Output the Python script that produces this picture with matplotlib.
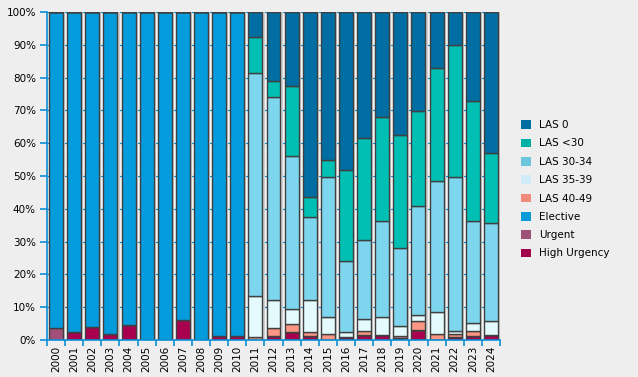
import matplotlib
matplotlib.use("Agg")
import matplotlib.pyplot as plt
import numpy as np
from matplotlib.patches import Patch

# ── Data (percent of transplants per year) ───────────────────────────────────
years = [str(y) for y in range(2000, 2025)]

high_urgency = [0, 2.3, 3.9, 1.7, 4.6, 0, 0, 6.0, 0, 1.2, 1.2,
                0, 1.2, 2.3, 1.2, 0, 0.9, 1.5, 1.5, 0.7, 3.0, 0, 1.0, 1.2, 1.5]
urgent = [3.6, 0, 0, 0, 0, 0, 0, 0, 0, 0, 0,
          0, 0, 0, 0, 0, 0, 0, 0, 0, 0, 0, 0, 0, 0]
elective = [96.4, 97.7, 96.1, 98.3, 95.4, 100, 100, 94.0, 100, 98.8, 98.8,
            0, 0, 0, 0, 0, 0, 0, 0, 0, 0, 0, 0, 0, 0]
las_40_49 = [0] * 11 + [0.8, 2.4, 2.6, 1.1, 1.7, 0, 1.2, 0, 0.5, 2.7, 1.8, 0.8, 1.5, 0]
las_35_39 = [0] * 11 + [12.6, 8.6, 4.5, 9.9, 5.2, 1.4, 3.6, 5.4, 3.1, 1.9, 6.6, 0.9, 2.5, 4.3]
las_30_34 = [0] * 11 + [67.9, 61.8, 46.7, 25.4, 42.9, 21.7, 24.2, 29.4, 23.7, 33.2, 40.0, 46.9, 31.1, 29.8]
las_lt30 = [0] * 11 + [11.0, 4.9, 21.2, 6.1, 5.0, 27.9, 31.0, 31.6, 34.4, 28.9, 34.4, 40.2, 36.5, 21.3]
las_0 = [0] * 11 + [7.7, 21.1, 22.7, 56.3, 45.2, 48.1, 38.5, 32.1, 37.6, 30.3, 17.2, 10.2, 27.2, 43.1]

# bottom to top stacking order
series = [
    ("High Urgency", high_urgency, "#a8004e"),
    ("Urgent", urgent, "#a24f7a"),
    ("Elective", elective, "#049cdc"),
    ("LAS 40-49", las_40_49, "#fb9684"),
    ("LAS 35-39", las_35_39, "#e4fbfd"),
    ("LAS 30-34", las_30_34, "#7dd6ee"),
    ("LAS <30", las_lt30, "#00c0b4"),
    ("LAS 0", las_0, "#006ea2"),
]
legend_colors = {
    "LAS 0": "#006ea0", "LAS <30": "#00b0a4", "LAS 30-34": "#6cc6dc",
    "LAS 35-39": "#d0ecf8", "LAS 40-49": "#f08a7a", "Elective": "#0a9ad8",
    "Urgent": "#a05078", "High Urgency": "#a0004c",
}

BG = "#eeeeee"
BLUE = "#0a8fd6"

fig = plt.figure(figsize=(6.38, 3.77), dpi=100, facecolor=BG)
ax = fig.add_axes([47 / 638, 37 / 377, 453 / 638, 328 / 377])
ax.set_facecolor("#f4f4f4")

x = np.arange(len(years))
width = 0.77

# grid lines behind bars
for v in range(10, 101, 10):
    ax.axhline(v, color=BLUE, linewidth=0.9, zorder=0)

# soft shadow to the right of each bar
totals = np.sum([s[1] for s in series], axis=0)
ax.bar(x + 0.12, totals, width, color="#cfcfcf", edgecolor="none", zorder=1)

bottom = np.zeros(len(years))
for name, vals, color in series:
    vals = np.array(vals, dtype=float)
    ax.bar(x, vals, width, bottom=bottom, color=color,
           edgecolor="#404040", linewidth=1.0, zorder=2)
    bottom += vals

ax.set_xlim(-0.5, len(years) - 0.5)
ax.set_ylim(0, 100)

ax.set_yticks(range(0, 101, 10))
ax.set_yticklabels([f"{v}%" for v in range(0, 101, 10)], fontsize=7.5)
ax.set_xticks(x)
ax.set_xticklabels(years, rotation=90, fontsize=7.5)
ax.tick_params(axis="x", length=0, pad=4)
ax.tick_params(axis="y", color=BLUE, length=5, width=1.2, pad=3)

# ticks between categories on the x axis
ax.set_xticks(np.arange(-0.5, len(years), 1), minor=True)
ax.tick_params(axis="x", which="minor", color=BLUE, length=4, width=1.2)

for side in ["top", "right"]:
    ax.spines[side].set_visible(False)
for side in ["left", "bottom"]:
    ax.spines[side].set_color(BLUE)
    ax.spines[side].set_linewidth(1.2)

handles = [Patch(facecolor=legend_colors[n], edgecolor="none", label=n)
           for n, _, _ in reversed(series)]
fig.legend(handles=handles, loc="upper left", bbox_to_anchor=(517 / 638, 1 - 116 / 377),
           frameon=False, fontsize=7.5, handlelength=0.9, handleheight=0.9,
           handletextpad=0.8, labelspacing=0.8, borderaxespad=0)

fig.savefig("out.png", dpi=100, facecolor=BG)
